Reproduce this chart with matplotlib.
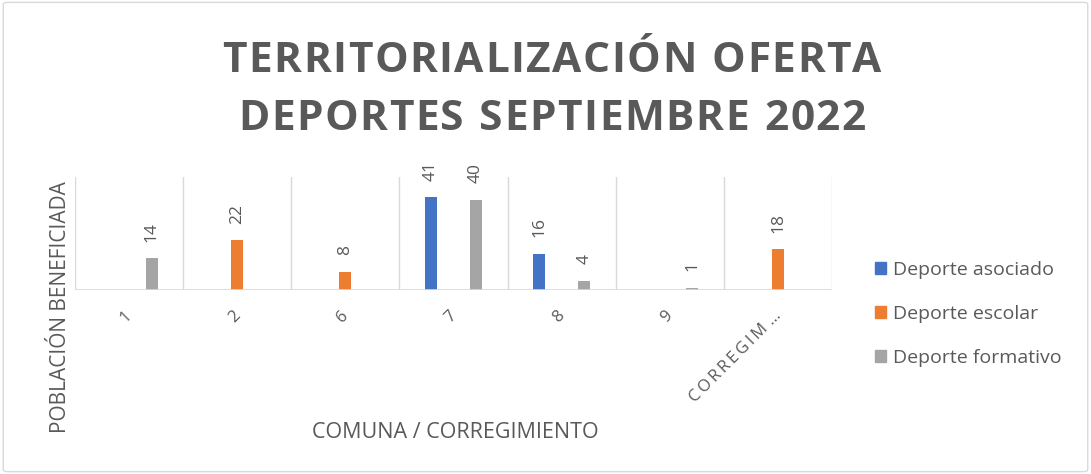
import numpy as np
import matplotlib.pyplot as plt
import matplotlib.transforms as mtransforms
from matplotlib.patches import FancyBboxPatch, Patch

# categories and series values (blank = no bar)
categories = ['1', '2', '6', '7', '8', '9', 'C\u2009O\u2009R\u2009R\u2009E\u2009G\u2009I\u2009M\u2009\u2009…']
asociado = [None, None, None, 41, 16, None, None]
escolar = [None, 22, 8, None, None, None, 18]
formativo = [14, None, None, 40, 4, 1, None]

series_names = ['Deporte asociado', 'Deporte escolar', 'Deporte formativo']
colors = ['#4472C4', '#ED7D31', '#A5A5A5']
text_color = '#595959'
grid_color = '#D9D9D9'

plt.rcParams['font.family'] = ['Open Sans', 'DejaVu Sans']

fig = plt.figure(figsize=(10.91, 4.74), dpi=100)

# outer border like the Excel chart area
fig.patches.append(FancyBboxPatch((0.003, 0.005), 0.994, 0.99, boxstyle='round,pad=0,rounding_size=0.004',
                                  transform=fig.transFigure, facecolor='none', edgecolor='#D9D9D9', lw=1))

ax = fig.add_axes([75/1091, 1 - 290/474, (832 - 75)/1091, (290 - 177)/474])

x = np.arange(len(categories))
width = 0.11
step = 0.208
all_series = [asociado, escolar, formativo]
for k, (vals, col) in enumerate(zip(all_series, colors)):
    offset = (k - 1) * step
    for i, v in enumerate(vals):
        if v is None:
            continue
        ax.bar(x[i] + offset, v, width=width, color=col, zorder=3)
        ax.annotate(str(v), (x[i] + offset, v), xytext=(0, 12), textcoords='offset points',
                    rotation=90, ha='center', va='bottom', fontsize=12.5, color=text_color)

ax.set_xlim(-0.5, len(categories) - 0.5)
ax.set_ylim(0, 50)

# category separators
for b in np.arange(-0.5, len(categories), 1.0):
    ax.axvline(b, color=grid_color, lw=1, zorder=1)
ax.axhline(0, color=grid_color, lw=1.2, zorder=4)

for s in ax.spines.values():
    s.set_visible(False)
ax.set_yticks([])
ax.set_xticks(x)
ax.set_xticklabels(categories, rotation=45, ha='right', va='top', rotation_mode='anchor',
                   fontsize=12, color=text_color)
ax.tick_params(axis='x', length=0, pad=13)
shift = mtransforms.ScaledTranslation(-5/100, 0, fig.dpi_scale_trans)
for lbl in ax.get_xticklabels():
    lbl.set_transform(lbl.get_transform() + shift)

fig.text(455/1091, 1 - 433/474, 'COMUNA / CORREGIMIENTO', ha='center', va='center',
         fontsize=15.5, color=text_color)
fig.text(60/1091, 1 - 307/474, 'POBLACIÓN BENEFICIADA', rotation=90, ha='center', va='center',
         fontsize=15, color=text_color)


# title with a little letter spacing, drawn one character at a time
def spaced_title(line, y_px, extra_px, size):
    renderer = fig.canvas.get_renderer()
    widths = []
    for ch in line:
        t = fig.text(0, 0, ch if ch != ' ' else 'I', fontsize=size, fontweight='bold')
        w = t.get_window_extent(renderer).width
        if ch == ' ':
            w *= 0.9
        widths.append(w)
        t.remove()
    total = sum(widths) + extra_px * (len(line) - 1)
    xpos = 552 - total / 2
    for ch, w in zip(line, widths):
        fig.text(xpos / 1091, 1 - y_px / 474, ch, fontsize=size, fontweight='bold',
                 color=text_color, ha='left', va='baseline')
        xpos += w + extra_px


spaced_title('TERRITORIALIZACIÓN OFERTA', 72, 1.5, 30.5)
spaced_title('DEPORTES SEPTIEMBRE 2022', 130, 1.5, 30.5)

handles = [Patch(facecolor=c, edgecolor=c) for c in colors]
fig.legend(handles, series_names, loc='center left', bbox_to_anchor=(857/1091, 1 - 314/474),
           frameon=False, fontsize=14, labelcolor=text_color, handlelength=0.6, handleheight=0.6,
           handletextpad=0.35, labelspacing=1.33)

fig.savefig('out.png', dpi=100)
